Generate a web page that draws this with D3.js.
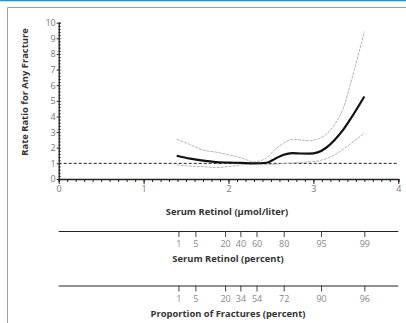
<!DOCTYPE html>
<html><head><meta charset="utf-8">
<script src="https://cdn.jsdelivr.net/npm/d3@7"></script>
<style>body{margin:0;background:#fff;}svg{display:block;}</style>
</head><body>
<script>
// Data
const xTicks = [0,1,2,3,4];
const yTicks = [0,1,2,3,4,5,6,7,8,9,10];
const retinolX = [1.39,1.55,1.7,1.85,2.0,2.15,2.3,2.45,2.55,2.65,2.75,2.85,2.95,3.05,3.15,3.25,3.35,3.45,3.6];
const estimate = [1.49,1.3,1.17,1.08,1.05,1.03,1.0,1.04,1.3,1.55,1.65,1.63,1.62,1.7,2.0,2.5,3.14,3.95,5.28];
const upperCI  = [2.54,2.2,1.85,1.72,1.55,1.35,1.1,1.35,1.9,2.3,2.54,2.5,2.45,2.55,2.85,3.5,4.5,6.35,9.44];
const lowerCI  = [0.9,0.83,0.79,0.73,0.8,0.9,1.0,0.92,0.95,1.0,1.02,1.05,1.1,1.15,1.3,1.55,1.9,2.3,2.93];
const pctPositions = [1.41,1.61,1.96,2.14,2.33,2.65,3.09,3.6];
const retinolPctLabels = ["1","5","20","40","60","80","95","99"];
const fracturePctLabels = ["1","5","20","34","54","72","90","96"];

const W=406,H=323;
const svg=d3.select("body").append("svg").attr("width",W).attr("height",H);
const font="'Open Sans', sans-serif";

// frame
svg.append("line").attr("x1",0).attr("x2",W).attr("y1",0.5).attr("y2",0.5).attr("stroke","#2a8fd0").attr("stroke-width",1.5);
svg.append("path").attr("d",`M7.5,${H}V7.5H${W}`).attr("fill","none").attr("stroke","#a0a0a0").attr("stroke-width",1);

const x=d3.scaleLinear().domain([0,4]).range([58.7,398.3]);
const y=d3.scaleLinear().domain([0,10]).range([179,22.7]);

const g=svg.append("g");
// x axis minor ticks
const xAxis=d3.axisBottom(x).tickValues(d3.range(0,4.0001,0.1)).tickSize(3).tickFormat("");
g.append("g").attr("transform",`translate(0,${y(0)})`).call(xAxis)
 .call(a=>{a.select(".domain").attr("stroke","#222").attr("stroke-width",1.3);a.selectAll("line").attr("stroke","#222");});
const xAxisMaj=d3.axisBottom(x).tickValues(xTicks).tickSize(5).tickFormat(d3.format("d"));
g.append("g").attr("transform",`translate(0,${y(0)})`).call(xAxisMaj)
 .call(a=>{a.select(".domain").remove();a.selectAll("line").attr("stroke","#222");
   a.selectAll("text").attr("font-family",font).attr("font-size",9).attr("fill","#777").attr("dy","0.6em");});
// y axis
const yAxisMin=d3.axisRight(y).tickValues(d3.range(0,10.0001,0.2)).tickSize(2).tickFormat("");
g.append("g").attr("transform",`translate(${x(0)},0)`).call(yAxisMin)
 .call(a=>{a.select(".domain").attr("stroke","#222").attr("stroke-width",1.3);a.selectAll("line").attr("stroke","#222");});
const yAxisMaj=d3.axisLeft(y).tickValues(yTicks).tickSize(2).tickPadding(1).tickFormat(d3.format("d"));
g.append("g").attr("transform",`translate(${x(0)},0)`).call(yAxisMaj)
 .call(a=>{a.select(".domain").remove();a.selectAll("line").attr("stroke","#222");
   a.selectAll("text").attr("font-family",font).attr("font-size",9).attr("fill","#777");});

// reference line
g.append("line").attr("x1",x(0)).attr("x2",x(4)).attr("y1",y(1)).attr("y2",y(1))
 .attr("stroke","#222").attr("stroke-width",1).attr("stroke-dasharray","3,2");

const line=d3.line().x((d,i)=>x(retinolX[i])).y(d=>y(d)).curve(d3.curveMonotoneX);
g.append("path").attr("d",line(upperCI)).attr("fill","none").attr("stroke","#b5b5b5").attr("stroke-width",1).attr("stroke-dasharray","3,1");
g.append("path").attr("d",line(lowerCI)).attr("fill","none").attr("stroke","#b5b5b5").attr("stroke-width",1).attr("stroke-dasharray","3,1");
g.append("path").attr("d",line(estimate)).attr("fill","none").attr("stroke","#111").attr("stroke-width",2.2);

// titles
const tsize=9.4;
g.append("text").attr("x",227).attr("y",215).attr("text-anchor","middle").attr("font-family",font)
 .attr("font-size",tsize).attr("font-weight","bold").attr("fill","#333").text("Serum Retinol (μmol/liter)");
g.append("text").attr("transform","translate(28,92) rotate(-90)").attr("text-anchor","middle").attr("font-family",font)
 .attr("font-size",tsize).attr("font-weight","bold").attr("fill","#333").text("Rate Ratio for Any Fracture");

function pctAxis(yPos,labels,title,titleY){
  const ax=d3.axisBottom(x).tickValues(pctPositions).tickSize(6).tickPadding(4).tickFormat((d,i)=>labels[i]);
  g.append("g").attr("transform",`translate(0,${yPos})`).call(ax)
   .call(a=>{a.select(".domain").attr("stroke","#222").attr("d",`M${x(0)},0.5H${x(4)}`);
     a.selectAll("line").attr("stroke","#444");
     a.selectAll("text").attr("font-family",font).attr("font-size",9).attr("fill","#888");});
  g.append("text").attr("x",228).attr("y",titleY).attr("text-anchor","middle").attr("font-family",font)
   .attr("font-size",tsize).attr("font-weight","bold").attr("fill","#333").text(title);
}
pctAxis(231,retinolPctLabels,"Serum Retinol (percent)",262);
pctAxis(285.5,fracturePctLabels,"Proportion of Fractures (percent)",317);
</script>
</body></html>
